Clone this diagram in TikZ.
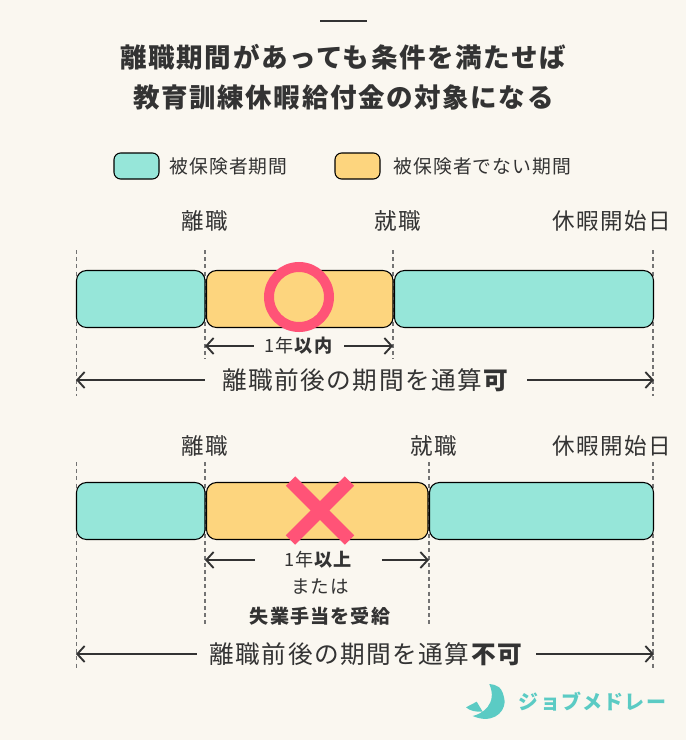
\documentclass[tikz,border=0pt]{standalone}
\usepackage{fontspec}
\setmainfont{Noto Sans CJK JP}[LetterSpace=6]
\usetikzlibrary{arrows.meta, positioning}

\definecolor{paper}{HTML}{FAF7F0}
\definecolor{insured}{HTML}{96E6D9}
\definecolor{gapcolor}{HTML}{FDD57E}
\definecolor{markpink}{HTML}{FF5377}
\definecolor{inkgray}{HTML}{333333}
\definecolor{logoteal}{HTML}{5BCBC4}

\tikzset{
  block/.style={draw=black, line width=0.8pt, rounded corners=7.5pt},
  guide/.style={draw=black!55, line width=1.4pt, dash pattern=on 3pt off 2.4pt},
  halfspan/.style={draw=inkgray, line width=1.4pt, -{Straight Barb[length=5.5pt,width=12pt]}},
  headtext/.style={text=inkgray, font=\fontsize{19.9pt}{24pt}\selectfont\bfseries},
  legendtext/.style={text=inkgray, font=\fontsize{14.1pt}{16pt}\selectfont},
  eventtext/.style={text=inkgray, font=\fontsize{16.9pt}{20pt}\selectfont},
  termtext/.style={text=inkgray, inner xsep=8pt, font=\fontsize{13.6pt}{16pt}\selectfont},
  totaltext/.style={text=inkgray, inner xsep=13pt, font=\fontsize{18.5pt}{22pt}\selectfont},
}

\begin{document}
\begin{tikzpicture}[x=0.75pt, y=-0.75pt]
  \fill[paper] (0,0) rectangle (686,740);

  % Heading
  \draw[inkgray, line width=1.1pt] (320,21) -- (367,21);
  \node[headtext] (headone) at (343.5,57) {離職期間があっても条件を満たせば};
  \node[headtext] (headtwo) at (343.5,97) {教育訓練休暇給付金の対象になる};

  % Legend
  \draw[block, fill=insured, rounded corners=5pt] (114,153) rectangle (159,179);
  \node[legendtext, anchor=west, inner xsep=0pt] (legendone) at (169,166) {被保険者期間};
  \draw[block, fill=gapcolor, rounded corners=5pt] (335,153) rectangle (380,179);
  \node[legendtext, anchor=west, inner xsep=0pt] (legendtwo) at (393,166) {被保険者でない期間};

  % Upper timeline
  \coordinate (startA) at (76.5,250);
  \coordinate (startAb) at (76.5,396);
  \coordinate (leaveA) at (205,250);
  \coordinate (leaveAb) at (205,359);
  \coordinate (hireA) at (393,250);
  \coordinate (hireAb) at (393,359);
  \coordinate (endA) at (653,250);
  \coordinate (endAb) at (653,396);
  \draw[guide] (startA) -- (startAb);
  \draw[guide] (leaveA) -- (leaveAb);
  \draw[guide] (hireA) -- (hireAb);
  \draw[guide] (endA) -- (endAb);

  \node[eventtext] (leavelabelA) at (205,221) {離職};
  \node[eventtext] (hirelabelA) at (398,221) {就職};
  \node[eventtext] (restlabelA) at (612,221) {休暇開始日};

  \draw[block, fill=insured] (76.5,270.5) rectangle (205,327.5);
  \draw[block, fill=gapcolor] (206.5,270.5) rectangle (393,327.5);
  \draw[block, fill=insured] (394.5,270.5) rectangle (653.5,327.5);
  \draw[markpink, line width=7.5pt] (299,297) circle (30);

  \node[termtext] (termA) at (299,346) {1年\textbf{以内}};
  \coordinate (termAl) at (205,346);
  \coordinate (termAr) at (393,346);
  \draw[halfspan] (termA.west) -- (termAl);
  \draw[halfspan] (termA.east) -- (termAr);

  \node[totaltext] (totalA) at (366,380) {離職前後の期間を通算\textbf{可}};
  \coordinate (totalAl) at (76,380);
  \coordinate (totalAr) at (654,380);
  \draw[halfspan] (totalA.west) -- (totalAl);
  \draw[halfspan] (totalA.east) -- (totalAr);

  % Lower timeline
  \coordinate (startB) at (76.5,462);
  \coordinate (startBb) at (76.5,668);
  \coordinate (leaveB) at (205,462);
  \coordinate (leaveBb) at (205,624);
  \coordinate (hireB) at (429,462);
  \coordinate (hireBb) at (429,624);
  \coordinate (endB) at (653,462);
  \coordinate (endBb) at (653,668);
  \draw[guide] (startB) -- (startBb);
  \draw[guide] (leaveB) -- (leaveBb);
  \draw[guide] (hireB) -- (hireBb);
  \draw[guide] (endB) -- (endBb);

  \node[eventtext] (leavelabelB) at (205,446) {離職};
  \node[eventtext] (hirelabelB) at (434,446) {就職};
  \node[eventtext] (restlabelB) at (612,446) {休暇開始日};

  \draw[block, fill=insured] (76.5,482.5) rectangle (205,539.5);
  \draw[block, fill=gapcolor] (206.5,482.5) rectangle (428,539.5);
  \draw[block, fill=insured] (429.5,482.5) rectangle (653.5,539.5);
  \draw[markpink, line width=10pt] (290.5,481) -- (349.5,540);
  \draw[markpink, line width=10pt] (349.5,481) -- (290.5,540);

  \node[termtext, inner xsep=21.5pt] (termB) at (318.5,560) {1年\textbf{以上}};
  \coordinate (termBl) at (205,560);
  \coordinate (termBr) at (429,560);
  \draw[halfspan] (termB.west) -- (termBl);
  \draw[halfspan] (termB.east) -- (termBr);
  \node[legendtext, font=\fontsize{13.9pt}{16pt}\selectfont] (orlabel) at (320,587) {または};
  \node[legendtext, font=\fontsize{14.3pt}{16pt}\selectfont\bfseries] (benefitlabel) at (320,616) {失業手当を受給};

  \node[totaltext, inner xsep=9.3pt] (totalB) at (366.5,654) {離職前後の期間を通算\textbf{不可}};
  \coordinate (totalBl) at (76,654);
  \coordinate (totalBr) at (654,654);
  \draw[halfspan] (totalB.west) -- (totalBl);
  \draw[halfspan] (totalB.east) -- (totalBr);

  % Logo
  \fill[logoteal] (489.3,684) .. controls (497,685) and (503,686) .. (504.7,702)
    .. controls (504,714) and (491,724) .. (472.7,716)
    .. controls (482,714) and (498,704) .. (489.3,684) -- cycle;
  \fill[logoteal] (466,707.3) -- (476.7,701.7) -- (482.7,711.7) .. controls (476,712) and (470,711) .. (466,707.3) -- cycle;
  \node[text=logoteal, font=\fontsize{15pt}{20pt}\selectfont\bfseries] (logotext) at (592.5,702) {ジョブメドレー};
\end{tikzpicture}
\end{document}
